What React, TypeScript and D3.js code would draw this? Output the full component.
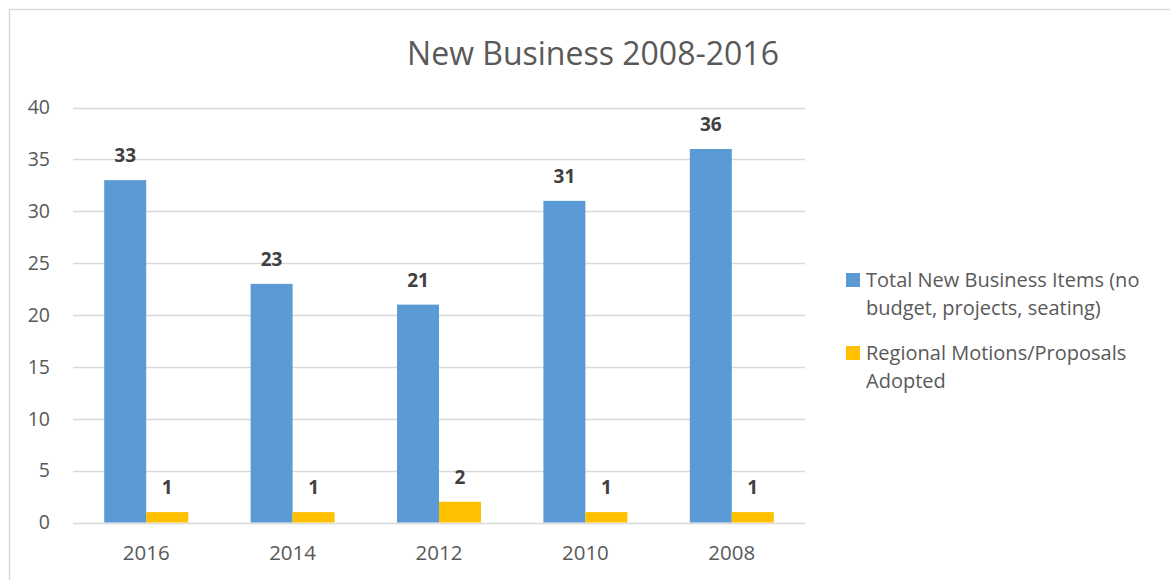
import React from 'react';
import * as d3 from 'd3';

const years = ['2016', '2014', '2012', '2010', '2008'];
const totalItems = [33, 23, 21, 31, 36];
const regionalAdopted = [1, 1, 2, 1, 1];
const yTicks = [0, 5, 10, 15, 20, 25, 30, 35, 40];

const seriesNames = ['Total New Business Items (no budget, projects, seating)', 'Regional Motions/Proposals Adopted'];
const legendLines = [
  ['Total New Business Items (no', 'budget, projects, seating)'],
  ['Regional Motions/Proposals', 'Adopted'],
];
const colors = ['#5B9BD5', '#FFC000'];

const W = 1170;
const H = 580;
const font = '"Open Sans", "Noto Sans", sans-serif';

const App = () => {
  const x = d3.scaleBand<string>().domain(years).range([73, 805]);
  const inner = d3.scaleBand<number>().domain([0, 1]).range([0, x.bandwidth()]).paddingInner(0).paddingOuter(0.743);
  const y = d3.scaleLinear().domain([0, 40]).range([522.5, 107.5]);

  const series = [totalItems, regionalAdopted];

  return (
    <svg width={W} height={H} style={{ position: 'absolute', left: 0, top: 0, background: '#fff' }} fontFamily={font}>
      <rect x={9.5} y={9.5} width={W + 20} height={H + 20} fill="#fff" stroke="#D9D9D9" strokeWidth={1.5} />

      <text x={593} y={65} textAnchor="middle" fontSize={32} fill="#595959">New Business 2008-2016</text>

      {/* grid + y ticks */}
      {yTicks.map(t => (
        <g key={t}>
          <line x1={73} x2={805} y1={Math.round(y(t)) + 0.5} y2={Math.round(y(t)) + 0.5} stroke="#D9D9D9" strokeWidth={1.5} />
          <text x={50} y={y(t)} dy="0.35em" textAnchor="end" fontSize={19.5} fill="#595959">{t}</text>
        </g>
      ))}

      {/* bars */}
      {series.map((vals, si) => (
        <g key={seriesNames[si]}>
          {vals.map((v, i) => {
            const bx = (x(years[i]) ?? 0) + (inner(si) ?? 0);
            return (
              <g key={years[i]}>
                <rect x={bx} y={y(v)} width={inner.bandwidth()} height={y(0) - y(v)} fill={colors[si]} />
                <text x={bx + inner.bandwidth() / 2} y={y(v) - 18} textAnchor="middle" fontSize={19} fontWeight="bold" fill="#404040">{v}</text>
              </g>
            );
          })}
        </g>
      ))}

      {/* x labels */}
      {years.map(yr => (
        <text key={yr} x={(x(yr) ?? 0) + x.bandwidth() / 2} y={560} textAnchor="middle" fontSize={20.5} fill="#595959">{yr}</text>
      ))}

      {/* legend */}
      {legendLines.map((lines, li) => {
        const base = li === 0 ? 287 : 360;
        return (
          <g key={li}>
            <rect x={846} y={base - 14} width={14} height={14} fill={colors[li]} />
            {lines.map((ln, k) => (
              <text key={k} x={866} y={base + k * 28} fontSize={20} fill="#595959">{ln}</text>
            ))}
          </g>
        );
      })}
    </svg>
  );
};

export default App;
